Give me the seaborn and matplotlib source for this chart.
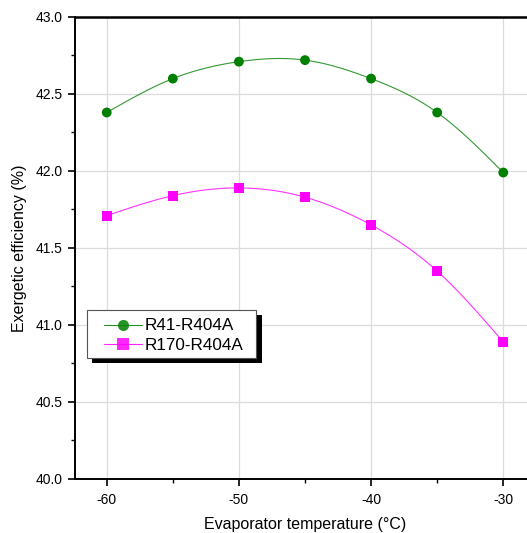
import numpy as np
import pandas as pd
import matplotlib
matplotlib.use("Agg")
import matplotlib.pyplot as plt
from matplotlib.ticker import MultipleLocator, FuncFormatter
from matplotlib.lines import Line2D
from matplotlib.patches import Rectangle
import seaborn as sns

# Evaporator temperature (°C) and exergetic efficiency (%) of the two cascade pairs
temps = [-60, -55, -50, -45, -40, -35, -30]
r41_r404a = [42.38, 42.60, 42.71, 42.72, 42.60, 42.38, 41.99]
r170_r404a = [41.71, 41.84, 41.89, 41.83, 41.65, 41.35, 40.89]
series_names = ["R41-R404A", "R170-R404A"]
colors = ["#008000", "#FF00FF"]
markers = ["o", "s"]

W, H = 527, 533


def natural_spline(x, y, n=300):
    """Smooth connecting curve through the measured points (natural cubic spline)."""
    x = np.asarray(x, float)
    y = np.asarray(y, float)
    k = len(x)
    h = np.diff(x)
    A = np.zeros((k, k))
    b = np.zeros(k)
    A[0, 0] = A[-1, -1] = 1
    for i in range(1, k - 1):
        A[i, i - 1] = h[i - 1]
        A[i, i] = 2 * (h[i - 1] + h[i])
        A[i, i + 1] = h[i]
        b[i] = 6 * ((y[i + 1] - y[i]) / h[i] - (y[i] - y[i - 1]) / h[i - 1])
    M = np.linalg.solve(A, b)
    xs = np.linspace(x[0], x[-1], n)
    idx = np.clip(np.searchsorted(x, xs) - 1, 0, k - 2)
    x0, x1 = x[idx], x[idx + 1]
    hh = x1 - x0
    t0, t1 = x1 - xs, xs - x0
    ys = (M[idx] * t0 ** 3 / (6 * hh) + M[idx + 1] * t1 ** 3 / (6 * hh)
          + (y[idx] / hh - M[idx] * hh / 6) * t0
          + (y[idx + 1] / hh - M[idx + 1] * hh / 6) * t1)
    return xs, ys


def px_rect(x0, y0, x1, y1, **kw):
    """Rectangle given in pixel coordinates measured from the top-left corner."""
    return Rectangle((x0 / W, 1 - y1 / H), (x1 - x0) / W, (y1 - y0) / H,
                     transform=fig.transFigure, clip_on=False, **kw)


sns.set_theme(style="white")
plt.rcParams["font.family"] = ["Liberation Sans", "DejaVu Sans"]
plt.rcParams["text.color"] = "black"

fig = plt.figure(figsize=(W / 100, H / 100), dpi=100)
ax = fig.add_axes([75 / W, 54 / H, 460 / W, 462 / H])

points = pd.DataFrame({
    "temp": temps * 2,
    "eff": r41_r404a + r170_r404a,
    "series": [series_names[0]] * len(temps) + [series_names[1]] * len(temps),
})

curves = []
for name, vals in zip(series_names, [r41_r404a, r170_r404a]):
    xs, ys = natural_spline(temps, vals)
    curves.append(pd.DataFrame({"temp": xs, "eff": ys, "series": name}))
curves = pd.concat(curves, ignore_index=True)

palette = dict(zip(series_names, colors))
sns.lineplot(data=curves, x="temp", y="eff", hue="series", palette=palette,
             linewidth=0.8, alpha=0.8, legend=False, ax=ax, sort=False, estimator=None)
sns.scatterplot(data=points, x="temp", y="eff", hue="series", style="series",
                palette=palette, markers=dict(zip(series_names, markers)),
                s=50, linewidth=0, legend=False, ax=ax, zorder=3)

ax.set_xlim(-62.4, -27.6)
ax.set_ylim(40.0, 43.0)
ax.xaxis.set_major_locator(MultipleLocator(10))
ax.xaxis.set_minor_locator(MultipleLocator(5))
ax.yaxis.set_major_locator(MultipleLocator(0.5))
ax.yaxis.set_minor_locator(MultipleLocator(0.25))
ax.xaxis.set_major_formatter(FuncFormatter(lambda v, p: f"{v:.0f}"))
ax.yaxis.set_major_formatter(FuncFormatter(lambda v, p: f"{v:.1f}"))

ax.grid(True, which="major", color="#dcdcdc", linewidth=0.9)
ax.set_axisbelow(True)
for side in ["left", "bottom", "top"]:
    ax.spines[side].set_visible(True)
    ax.spines[side].set_color("black")
    ax.spines[side].set_linewidth(1.4)
ax.spines["top"].set_linewidth(1.8)
ax.spines["right"].set_visible(False)

ax.tick_params(axis="both", which="major", direction="out", length=5, width=1.2,
               color="black", labelsize=10, labelcolor="black",
               bottom=True, left=True, top=False, right=False, pad=4)
ax.tick_params(axis="both", which="minor", direction="out", length=3, width=1.0,
               color="black", bottom=True, left=True, top=False, right=False)
ax.tick_params(axis="x", which="major", pad=5)

ax.set_xlabel("Evaporator temperature (\u00b0C)", fontsize=11.5, labelpad=7, color="black")
ax.set_ylabel("Exergetic efficiency (%)", fontsize=11.5, labelpad=6, color="black")

# Legend box with a solid drop shadow
ax.add_artist(px_rect(92, 315, 262, 363, facecolor="black", edgecolor="none", zorder=5))
ax.add_artist(px_rect(87, 310, 256, 358, facecolor="white", edgecolor="#555555",
                      linewidth=0.8, zorder=6))

handles = [Line2D([0], [0], color=c, marker=m, markersize=8, linewidth=0.8,
                  markeredgewidth=0, label=n)
           for n, c, m in zip(series_names, colors, markers)]
leg = ax.legend(handles=handles, loc="upper left",
                bbox_to_anchor=(104 / W, 1 - 318.5 / H), bbox_transform=fig.transFigure,
                frameon=False, fontsize=12.3, handlelength=2.2, borderpad=0,
                labelspacing=0.24, handletextpad=0.2, borderaxespad=0,
                labelcolor="black")
leg.set_zorder(7)
for line in leg.get_lines():
    line.set_alpha(0.85)

fig.savefig("out.png", dpi=100)
